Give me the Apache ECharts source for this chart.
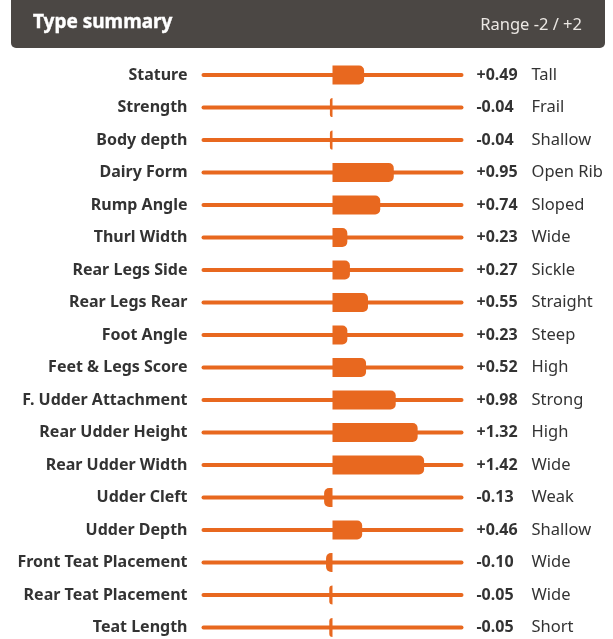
<!DOCTYPE html>
<html><head><meta charset="utf-8">
<script src="https://cdn.jsdelivr.net/npm/echarts@6/dist/echarts.min.js"></script>
<style>html,body{margin:0;padding:0;background:#fff}#c{width:613px;height:639px}</style>
</head><body><div id="c"></div>
<script>
const traits = ['Stature','Strength','Body depth','Dairy Form','Rump Angle','Thurl Width','Rear Legs Side','Rear Legs Rear','Foot Angle','Feet & Legs Score','F. Udder Attachment','Rear Udder Height','Rear Udder Width','Udder Cleft','Udder Depth','Front Teat Placement','Rear Teat Placement','Teat Length'];
const values = [0.49,-0.04,-0.04,0.95,0.74,0.23,0.27,0.55,0.23,0.52,0.98,1.32,1.42,-0.13,0.46,-0.10,-0.05,-0.05];
const descriptors = ['Tall','Frail','Shallow','Open Rib','Sloped','Wide','Sickle','Straight','Steep','High','Strong','High','Wide','Weak','Shallow','Wide','Wide','Short'];
const rangeMin = -2, rangeMax = 2;
const titleText = 'Type summary';
const rangeText = 'Range -2 / +2';

const ORANGE = '#E8681F';
const FONT = '"Noto Sans", sans-serif';
const chart = echarts.init(document.getElementById('c'), null, {renderer:'canvas'});
const fmt = v => (v >= 0 ? '+' : '') + v.toFixed(2);

chart.setOption({
  animation: false,
  graphic: [
    {type:'rect', shape:{x:11,y:0,width:594,height:48,r:[0,0,5,5]}, style:{fill:'#4B4744'}, z:10},
    {type:'text', x:33, y:23, style:{text:titleText, fill:'#fff', font:'bold 19px ' + FONT, textVerticalAlign:'middle', stroke:'#fff', lineWidth:0.4}, z:11},
    {type:'text', x:582, y:25, style:{text:rangeText, fill:'#ECE8E4', font:'16.5px ' + FONT, textAlign:'right', textVerticalAlign:'middle'}, z:11}
  ],
  grid: {left:203.5, right:151.5, top:75, bottom:11.5},
  xAxis: {type:'value', min:rangeMin, max:rangeMax, show:false},
  yAxis: [
    {type:'category', data:traits, inverse:true, boundaryGap:false, position:'left',
     axisLine:{show:false}, axisTick:{show:false}, splitLine:{show:false},
     axisLabel:{margin:16, color:'#333', fontFamily:FONT, fontWeight:'bold', fontSize:16}},
    {type:'category', data:traits, inverse:true, boundaryGap:false, position:'right',
     axisLine:{show:false}, axisTick:{show:false}, splitLine:{show:false},
     axisLabel:{margin:15, align:'left',
       formatter:(v, i) => '{v|' + fmt(values[i]) + '}{d|' + descriptors[i] + '}',
       rich:{
         v:{width:55, color:'#333', fontFamily:FONT, fontWeight:'bold', fontSize:16},
         d:{color:'#333', fontFamily:FONT, fontSize:16.5}
       }}}
  ],
  series: [{
    type:'custom',
    data: values.map((v,i)=>[i,v]),
    renderItem: (params, api) => {
      const i = api.value(0), v = api.value(1);
      const a = api.coord([rangeMin, i]);
      const b = api.coord([rangeMax, i]);
      const z = api.coord([0, i]);
      const e = api.coord([v, i]);
      const h = 19;
      const w = Math.abs(e[0]-z[0]);
      const x0 = Math.min(e[0], z[0]);
      const r = Math.min(5, w);
      const radius = v >= 0 ? [0, r, r, 0] : [r, 0, 0, r];
      return {type:'group', children:[
        {type:'line', shape:{x1:a[0], y1:a[1], x2:b[0], y2:b[1]}, style:{stroke:ORANGE, lineWidth:4, lineCap:'round'}},
        {type:'rect', shape:{x:x0, y:z[1]-h/2, width:Math.max(w,1.5), height:h, r:radius}, style:{fill:ORANGE}}
      ]};
    }
  }]
});
</script></body></html>
